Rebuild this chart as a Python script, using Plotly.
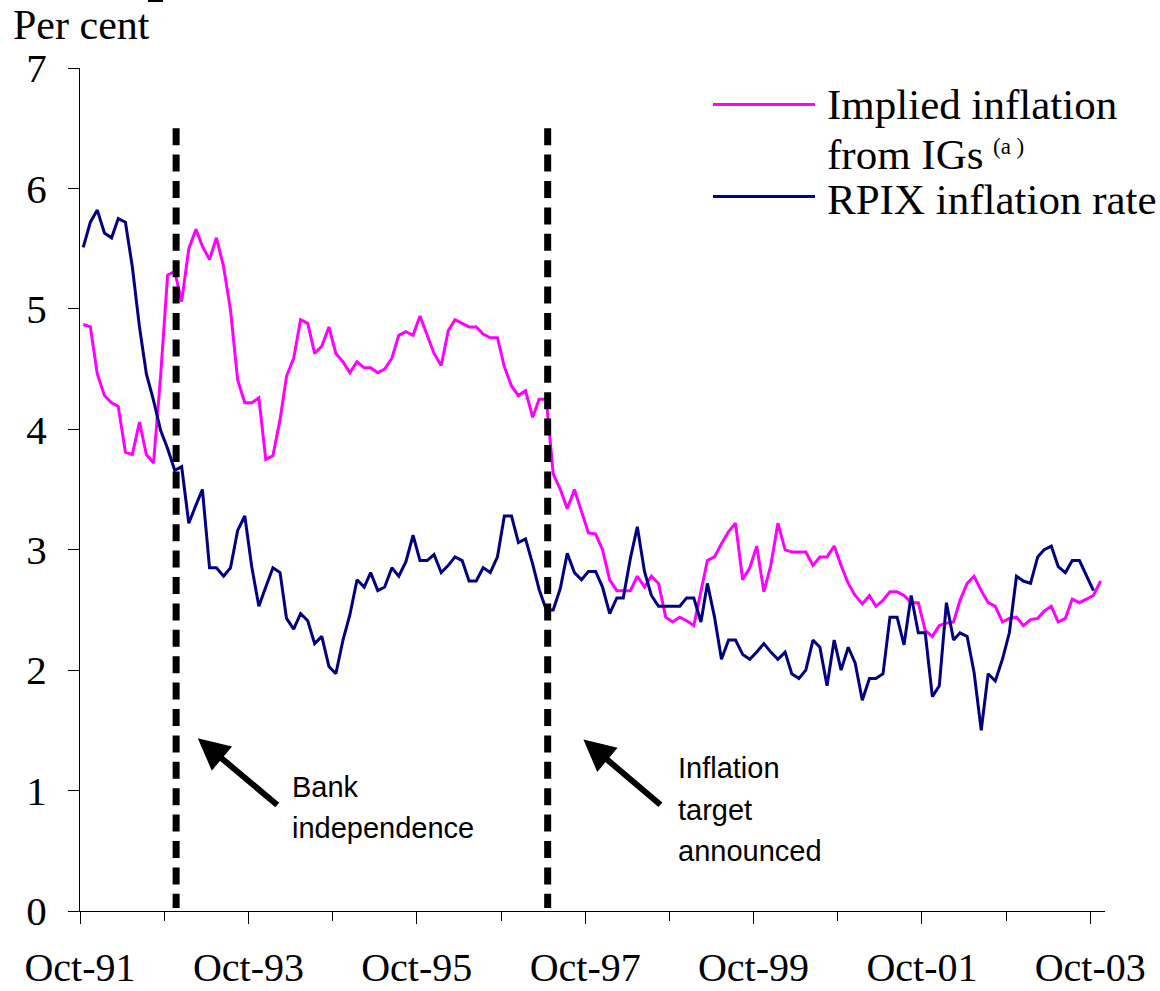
import pandas as pd
import plotly.graph_objects as go

# ---------------- data (monthly, from Oct-91) ----------------
implied_inflation = [
    4.87, 4.85, 4.46, 4.28, 4.22, 4.19, 3.81, 3.79, 4.06, 3.79,
    3.72, 4.45, 5.28, 5.31, 5.06, 5.50, 5.66, 5.52, 5.41, 5.59,
    5.35, 4.99, 4.41, 4.22, 4.22, 4.26, 3.75, 3.78, 4.08, 4.44,
    4.59, 4.91, 4.88, 4.63, 4.69, 4.85, 4.63, 4.56, 4.47, 4.56,
    4.51, 4.51, 4.47, 4.50, 4.59, 4.78, 4.81, 4.78, 4.94, 4.78,
    4.63, 4.53, 4.82, 4.91, 4.88, 4.85, 4.85, 4.79, 4.76, 4.76,
    4.52, 4.36, 4.28, 4.32, 4.10, 4.25, 4.25, 3.63, 3.50, 3.34,
    3.50, 3.32, 3.14, 3.13, 3.00, 2.75, 2.66, 2.66, 2.66, 2.78,
    2.69, 2.78, 2.72, 2.44, 2.40, 2.44, 2.41, 2.37, 2.67, 2.91,
    2.94, 3.05, 3.15, 3.22, 2.75, 2.85, 3.03, 2.65, 2.87, 3.22,
    3.00, 2.98, 2.98, 2.98, 2.87, 2.94, 2.94, 3.03, 2.87, 2.72,
    2.62, 2.55, 2.62, 2.53, 2.58, 2.65, 2.65, 2.62, 2.56, 2.56,
    2.33, 2.28, 2.37, 2.39, 2.40, 2.58, 2.72, 2.78, 2.66, 2.56,
    2.53, 2.40, 2.43, 2.44, 2.37, 2.42, 2.43, 2.49, 2.53, 2.40,
    2.43, 2.59, 2.56, 2.59, 2.62, 2.74,
]

rpix_inflation = [
    5.51, 5.72, 5.82, 5.63, 5.59, 5.75, 5.72, 5.35, 4.85, 4.46,
    4.24, 3.99, 3.84, 3.66, 3.69, 3.22, 3.37, 3.50, 2.85, 2.85,
    2.78, 2.85, 3.16, 3.28, 2.86, 2.53, 2.69, 2.85, 2.81, 2.43,
    2.34, 2.47, 2.41, 2.22, 2.28, 2.03, 1.97, 2.25, 2.46, 2.75,
    2.69, 2.81, 2.66, 2.69, 2.85, 2.78, 2.90, 3.12, 2.91, 2.91,
    2.96, 2.81, 2.87, 2.94, 2.91, 2.74, 2.74, 2.85, 2.81, 2.94,
    3.28, 3.28, 3.06, 3.09, 2.88, 2.67, 2.50, 2.50, 2.68, 2.97,
    2.81, 2.75, 2.82, 2.82, 2.69, 2.47, 2.60, 2.60, 2.93, 3.19,
    2.82, 2.62, 2.53, 2.53, 2.53, 2.53, 2.60, 2.60, 2.40, 2.72,
    2.44, 2.09, 2.25, 2.25, 2.13, 2.09, 2.15, 2.22, 2.15, 2.09,
    2.15, 1.97, 1.93, 2.00, 2.25, 2.19, 1.87, 2.25, 2.00, 2.19,
    2.06, 1.75, 1.93, 1.93, 1.97, 2.44, 2.44, 2.21, 2.62, 2.31,
    2.31, 1.78, 1.87, 2.56, 2.25, 2.31, 2.28, 1.98, 1.50, 1.97,
    1.91, 2.09, 2.31, 2.78, 2.74, 2.72, 2.94, 3.00, 3.03, 2.86,
    2.81, 2.91, 2.91, 2.79, 2.66,
]

start_month = "1991-10-01"
implied_dates = pd.date_range(start_month, periods=len(implied_inflation), freq="MS") + pd.Timedelta(days=14)
rpix_dates = pd.date_range(start_month, periods=len(rpix_inflation), freq="MS") + pd.Timedelta(days=14)

series_names = ["Implied inflation", "RPIX inflation rate"]
legend_lines = ["Implied inflation", "from IGs", "RPIX inflation rate"]
legend_sup = "(a )"
event_dates = ["1992-11-21", "1997-04-21"]
event_labels = [["Bank", "independence"], ["Inflation", "target", "announced"]]
arrow_heads = [("1993-02-23", 1.434), ("1997-09-23", 1.424)]
x_range = ["1991-10-01", "2003-12-04"]
y_range = [0, 7]

PINK = "#FF00FF"
NAVY = "#000080"
SERIF = "Liberation Serif, Times New Roman, serif"
SANS = "Liberation Sans, Arial, sans-serif"

W, H = 1160, 991
# plot area in window pixels: x 80..1105, y 68..911
PL, PR, PT, PB = 80, 1105, 68, 911
L, R, T, B = PL, W - PR, PT, H - PB


def pxx(x):
    return (x - PL) / (PR - PL)


def pxy(y):
    return (PB - y) / (PB - PT)


fig = go.Figure()
fig.add_trace(go.Scatter(x=implied_dates, y=implied_inflation, mode="lines",
                         name=series_names[0], line=dict(color=PINK, width=3)))
fig.add_trace(go.Scatter(x=rpix_dates, y=rpix_inflation, mode="lines",
                         name=series_names[1], line=dict(color=NAVY, width=3)))

shapes = []
for d in event_dates:
    shapes.append(dict(type="line", xref="x", yref="y", x0=d, x1=d, y0=6.5, y1=0.025,
                       line=dict(color="black", width=7, dash="17px,9.4px")))
shapes.append(dict(type="line", xref="paper", yref="paper", x0=pxx(713), x1=pxx(815),
                   y0=pxy(104.5), y1=pxy(104.5), line=dict(color=PINK, width=3)))
shapes.append(dict(type="line", xref="paper", yref="paper", x0=pxx(713), x1=pxx(815),
                   y0=pxy(196.5), y1=pxy(196.5), line=dict(color=NAVY, width=3)))
shapes.append(dict(type="line", xref="paper", yref="paper", x0=pxx(148), x1=pxx(163),
                   y0=pxy(1), y1=pxy(1), line=dict(color="black", width=2)))

annotations = []
annotations.append(dict(text="Per cent", xref="paper", yref="paper", x=pxx(11), y=pxy(25),
                        xanchor="left", yanchor="middle", showarrow=False,
                        font=dict(family=SERIF, size=42, color="black")))
for txt, yy in zip(legend_lines, [105, 154, 199]):
    annotations.append(dict(text=txt, xref="paper", yref="paper", x=pxx(825), y=pxy(yy),
                            xanchor="left", yanchor="middle", showarrow=False,
                            font=dict(family=SERIF, size=43, color="black")))
annotations.append(dict(text=legend_sup, xref="paper", yref="paper", x=pxx(991), y=pxy(146),
                        xanchor="left", yanchor="middle", showarrow=False,
                        font=dict(family=SERIF, size=23, color="black")))
for (hx, hy), (ax, ay) in zip(arrow_heads, [(81, 68), (78.5, 66.5)]):
    annotations.append(dict(text="", x=hx, y=hy, xref="x", yref="y", ax=ax, ay=ay,
                            showarrow=True, arrowhead=2, arrowsize=1.05, arrowwidth=6,
                            arrowcolor="black", standoff=0, startstandoff=0))
for lines, x0, ys in zip(event_labels, [290, 676], [[787, 828], [768, 810, 851]]):
    for txt, yy in zip(lines, ys):
        annotations.append(dict(text=txt, xref="paper", yref="paper", x=pxx(x0), y=pxy(yy),
                                xanchor="left", yanchor="middle", showarrow=False,
                                font=dict(family=SANS, size=29, color="black")))

fig.update_layout(
    width=W, height=H,
    margin=dict(l=L, r=R, t=T, b=B, pad=0, autoexpand=False),
    paper_bgcolor="white", plot_bgcolor="white",
    showlegend=False,
    shapes=shapes, annotations=annotations,
)
fig.update_xaxes(
    type="date", range=x_range, showgrid=False, zeroline=False, automargin=False,
    showline=True, linecolor="black", linewidth=1,
    ticks="outside", ticklen=12, tickcolor="black", tickwidth=1,
    tick0="1991-10-01", dtick="M24", tickformat="%b-%y",
    minor=dict(ticks="outside", ticklen=9, tickcolor="black", tickwidth=1,
               tick0="1991-10-01", dtick="M12", showgrid=False),
    tickfont=dict(family=SERIF, size=40, color="black"),
    ticklabelstandoff=9,
)
fig.update_yaxes(
    range=y_range, dtick=1, showgrid=False, zeroline=False, automargin=False,
    showline=True, linecolor="black", linewidth=1,
    ticks="outside", ticklen=11, tickcolor="black", tickwidth=1,
    tickfont=dict(family=SERIF, size=41, color="black"),
    ticklabelstandoff=13,
)

fig.write_html(
    "out.html",
    config={"displayModeBar": False},
    post_script="document.body.style.margin='0px';document.body.style.overflow='hidden';",
)
